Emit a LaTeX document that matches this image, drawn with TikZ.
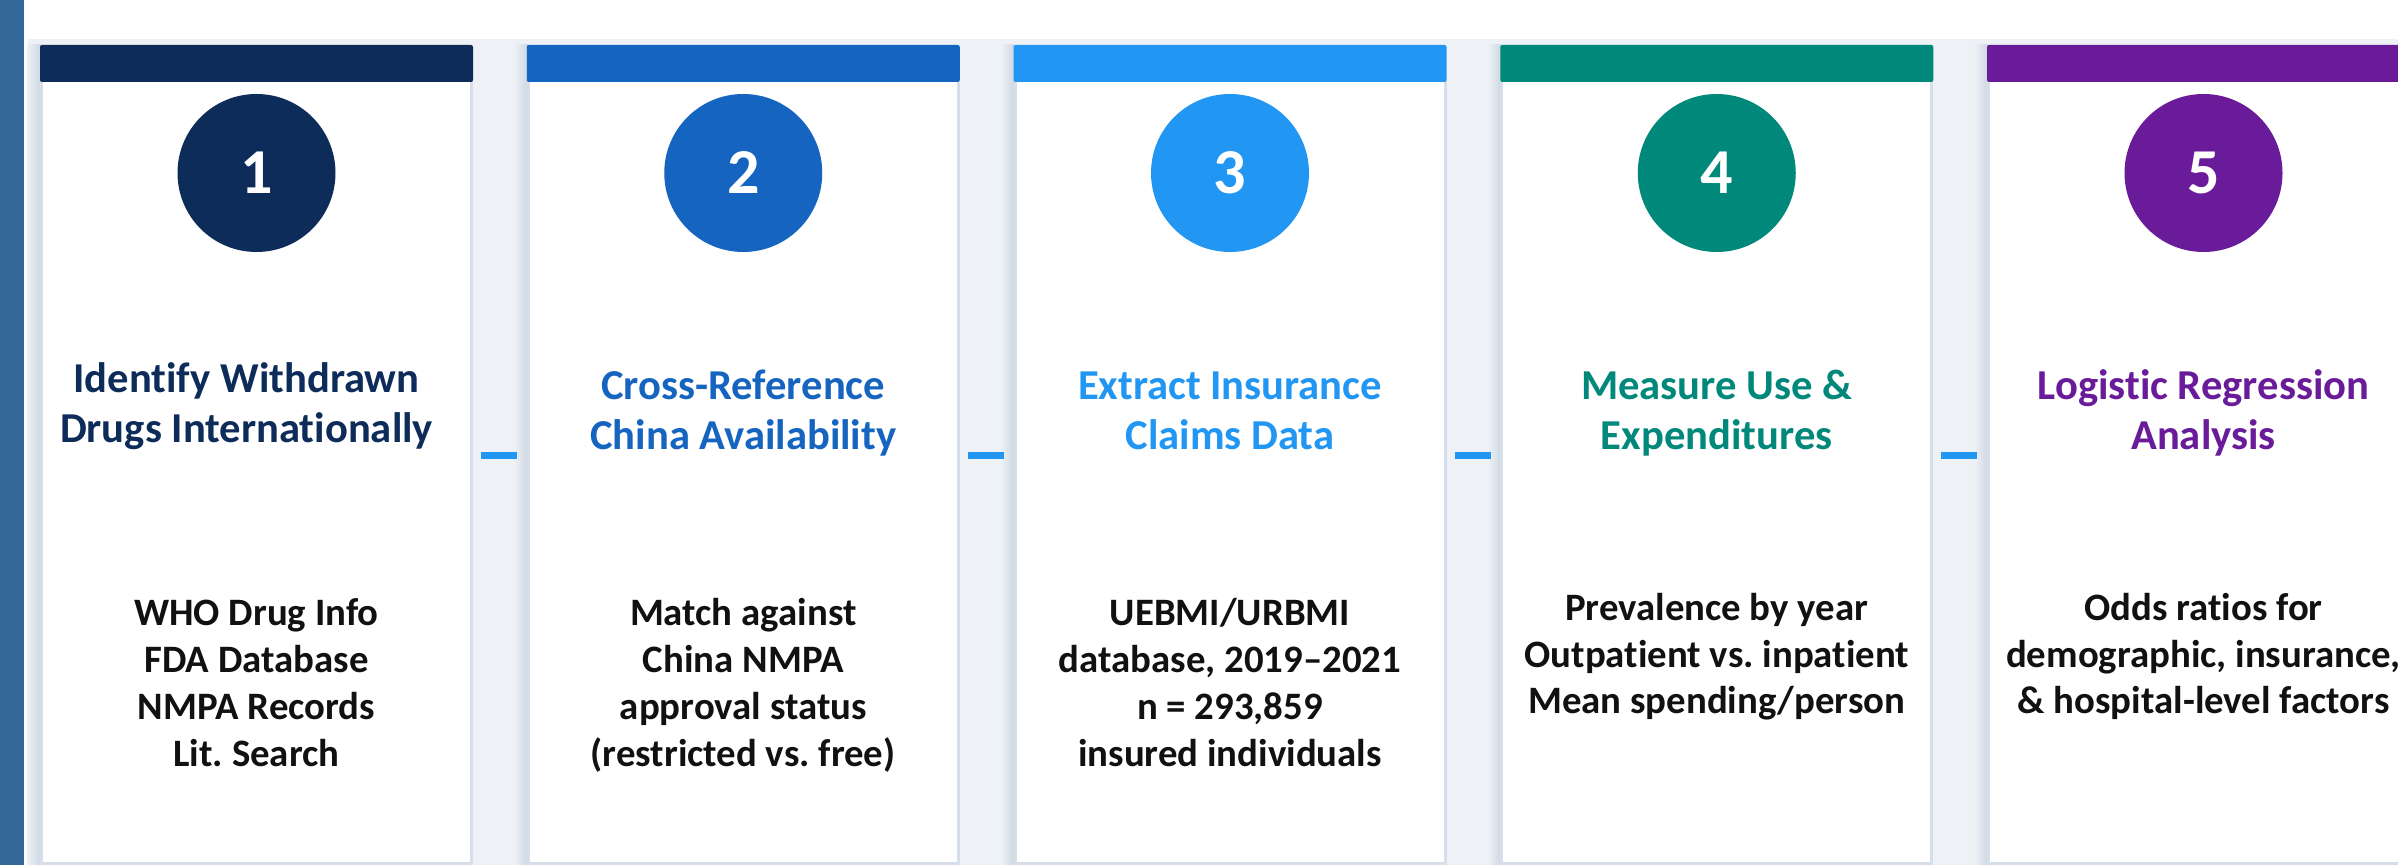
\documentclass[tikz,border=0pt]{standalone}
\usepackage{fontspec}
\setmainfont[Ligatures={NoCommon}]{Carlito}
\frenchspacing
\definecolor{strip}{HTML}{34679A}
\definecolor{bgl}{HTML}{EEF2F7}
\definecolor{shd}{HTML}{CDD6E1}
\definecolor{bord}{HTML}{D5DEE9}
\definecolor{cA}{HTML}{0D2C5A}
\definecolor{cB}{HTML}{1565C0}
\definecolor{cC}{HTML}{2196F3}
\definecolor{cD}{HTML}{00897B}
\definecolor{cE}{HTML}{6A1B9A}
\definecolor{dashc}{HTML}{2196F3}
\definecolor{bodyc}{HTML}{111111}
\tikzset{
  numcirc/.style={circle, inner sep=0pt, minimum size=79pt, text=white,
    font=\fontsize{32}{36}\selectfont\bfseries},
  ttl/.style={anchor=base, inner sep=0pt, font=\fontsize{21.3}{25}\selectfont\bfseries},
  bdy/.style={anchor=base, inner sep=0pt, text=bodyc, font=\fontsize{19.4}{23}\selectfont\bfseries},
  link/.style={draw=dashc, line width=3.5pt}
}
\begin{document}
\begin{tikzpicture}[x=0.5pt,y=-0.5pt]
\useasboundingbox (0,0) rectangle (2398,865);
\fill[white] (0,0) rectangle (2398,865);
\fill[bgl] (28,39) rectangle (2398,865);
\fill[strip] (0,0) rectangle (24,865);
\foreach \i/\col in {1/cA,2/cB,3/cC,4/cD,5/cE}{
  \pgfmathsetmacro\xo{40+(\i-1)*486.75}
  \shade[left color=bgl, right color=shd] (\xo-13,45) rectangle (\xo+1,865);
  \filldraw[fill=white, draw=bord, line width=1.5pt] (\xo+1.5,80) rectangle (\xo+431.5,863.5);
  \fill[\col, rounded corners=1pt] (\xo,45) rectangle (\xo+433,82);
  \node[numcirc, fill=\col] (num\i) at (\xo+216.5,173) {\i};
}
\foreach \i in {1,2,3,4}{
  \pgfmathsetmacro\xo{40+(\i-1)*486.75}
  \coordinate (dl\i) at (\xo+441,455.5);
  \coordinate (dr\i) at (\xo+477,455.5);
  \draw[link] (dl\i) -- (dr\i);
}
% card 1
\node[ttl, text=cA] (t1a) at (246.5,393) {Identify Withdrawn};
\node[ttl, text=cA] (t1b) at (246.5,443) {Drugs Internationally};
\node[bdy] (b1a) at (256.5,625) {WHO Drug Info};
\node[bdy] (b1b) at (256.5,672) {FDA Database};
\node[bdy] (b1c) at (256.5,719) {NMPA Records};
\node[bdy] (b1d) at (256.5,766) {Lit. Search};
% card 2
\node[ttl, text=cB] (t2a) at (743.25,400) {Cross-Reference};
\node[ttl, text=cB] (t2b) at (743.25,450) {China Availability};
\node[bdy] (b2a) at (743.25,625) {Match against};
\node[bdy] (b2b) at (743.25,672) {China NMPA};
\node[bdy] (b2c) at (743.25,719) {approval status};
\node[bdy] (b2d) at (743.25,766) {(restricted vs. free)};
% card 3
\node[ttl, text=cC] (t3a) at (1230,400) {Extract Insurance};
\node[ttl, text=cC] (t3b) at (1230,450) {Claims Data};
\node[bdy] (b3a) at (1230,625) {UEBMI/URBMI};
\node[bdy] (b3b) at (1230,672) {database, 2019–2021};
\node[bdy] (b3c) at (1230,719) {n = 293,859};
\node[bdy] (b3d) at (1230,766) {insured individuals};
% card 4
\node[ttl, text=cD] (t4a) at (1716.75,400) {Measure Use \&};
\node[ttl, text=cD] (t4b) at (1716.75,450) {Expenditures};
\node[bdy] (b4a) at (1716.75,620) {Prevalence by year};
\node[bdy] (b4b) at (1716.75,667) {Outpatient vs. inpatient};
\node[bdy] (b4c) at (1716.75,713) {Mean spending/person};
% card 5
\node[ttl, text=cE] (t5a) at (2203.5,400) {Logistic Regression};
\node[ttl, text=cE] (t5b) at (2203.5,450) {Analysis};
\node[bdy] (b5a) at (2203.5,620) {Odds ratios for};
\node[bdy] (b5b) at (2203.5,667) {demographic, insurance,};
\node[bdy] (b5c) at (2203.5,713) {\& hospital-level factors};
\end{tikzpicture}
\end{document}
